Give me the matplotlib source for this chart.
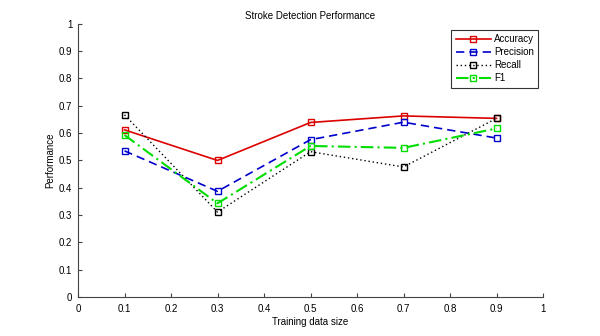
import matplotlib
matplotlib.use("Agg")
import matplotlib.pyplot as plt

plt.rcParams['font.family'] = ['Liberation Sans', 'DejaVu Sans']

x = [0.1, 0.3, 0.5, 0.7, 0.9]
accuracy = [0.612, 0.500, 0.639, 0.663, 0.654]
precision = [0.535, 0.387, 0.576, 0.640, 0.582]
recall = [0.667, 0.311, 0.532, 0.476, 0.654]
f1 = [0.593, 0.343, 0.553, 0.546, 0.617]

fig = plt.figure(figsize=(6.0, 3.36), dpi=100)
ax = fig.add_axes([0.13, 0.116, 0.775, 0.813])

mk = dict(marker='s', markersize=4.5, markerfacecolor='none', markeredgewidth=1.0)
ax.plot(x, accuracy, color='#dd0000', linestyle='-', lw=1.2, label='Accuracy', **mk)
ax.plot(x, precision, color='#0000cc', linestyle=(0, (5, 3)), lw=1.2, label='Precision', **mk)
ax.plot(x, recall, color='black', linestyle=(0, (1, 2)), lw=1.0, label='Recall', **mk)
ax.plot(x, f1, color='#00dd00', linestyle=(0, (6, 2, 1, 2)), lw=1.5, label='F1', **mk)

ax.set_xlim(0, 1)
ax.set_ylim(0, 1)
ax.set_xticks([i / 10 for i in range(11)])
ax.set_yticks([i / 10 for i in range(11)])
ax.set_xticklabels(['0', '0.1', '0.2', '0.3', '0.4', '0.5', '0.6', '0.7', '0.8', '0.9', '1'])
ax.set_yticklabels(['0', '0.1', '0.2', '0.3', '0.4', '0.5', '0.6', '0.7', '0.8', '0.9', '1'])
ax.tick_params(direction='in', labelsize=7, length=3, color='#444444')
ax.tick_params(axis='x', pad=5)
ax.tick_params(axis='y', pad=4)
for s in ['top', 'right']:
    ax.spines[s].set_visible(False)
for s in ['left', 'bottom']:
    ax.spines[s].set_color('#444444')
    ax.spines[s].set_linewidth(0.8)

ax.set_title('Stroke Detection Performance', fontsize=7, pad=3.5)
ax.set_xlabel('Training data size', fontsize=7, labelpad=2.5)
ax.set_ylabel('Performance', fontsize=7, labelpad=3)

leg = ax.legend(loc='upper right', bbox_to_anchor=(1.0, 0.997), fontsize=7, frameon=True,
                fancybox=False, edgecolor='black', handlelength=3.6, borderpad=0.45,
                labelspacing=0.32, handletextpad=0.3)
leg.get_frame().set_linewidth(0.8)

fig.savefig('out.png', dpi=100)
